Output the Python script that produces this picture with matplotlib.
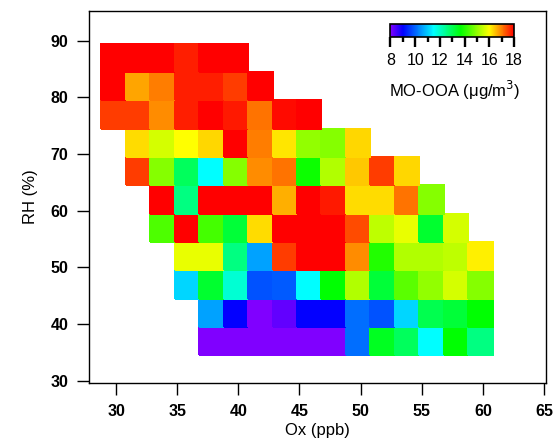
import numpy as np
import matplotlib
matplotlib.use("Agg")
import matplotlib.pyplot as plt
from matplotlib.colors import LinearSegmentedColormap

plt.rcParams['font.family'] = ['Liberation Sans', 'DejaVu Sans']

# bin centres
ox_bins = [29.8, 31.8, 33.8, 35.8, 37.8, 39.8, 41.8, 43.8,
           45.8, 47.8, 49.8, 51.8, 53.8, 55.8, 57.8, 59.8]
rh_bins = [87, 82, 77, 72, 67, 62, 57, 52, 47, 42, 37]

n = np.nan
# MO-OOA (ug/m3), rows from top (RH 87) to bottom (RH 37)
mo_ooa = [
    [18, 18, 18, 17.75, 18, 18, n, n, n, n, n, n, n, n, n, n],
    [18, 16.7, 17.0, 17.75, 17.75, 17.5, 18, n, n, n, n, n, n, n, n, n],
    [17.5, 17.5, 16.9, 17.75, 18, 17.8, 17.1, 17.9, 18, n, n, n, n, n, n, n],
    [n, 16.25, 15.6, 16.0, 16.3, 18, 17.0, 16.2, 15.0, 14.9, 16.3, n, n, n, n, n],
    [n, 17.5, 14.9, 12.9, 11.5, 14.9, 16.9, 17.1, 13.8, 15.3, 16.4, 17.5, 16.3, n, n, n],
    [n, n, 18, 12.6, 18, 18, 18, 16.6, 18, 17.8, 16.25, 16.25, 17.1, 14.9, n, n],
    [n, n, 14.4, 18, 14.3, 13.2, 16.25, 18, 18, 18, 17.4, 15.4, 15.8, 13.3, 15.6, n],
    [n, n, n, 15.8, 15.8, 12.6, 10.6, 17.5, 18, 18, 16.9, 14.0, 15.3, 15.3, 15.4, 16.1],
    [n, n, n, 11.1, 13.3, 11.9, 9.8, 9.9, 11.5, 13.7, 15.3, 13.2, 14.5, 15.0, 15.6, 14.9],
    [n, n, n, n, 10.6, 9.0, 8.0, 8.25, 9.0, 9.0, 10.1, 9.8, 11.1, 13.0, 13.2, 13.7],
    [n, n, n, n, 8, 8, 8, 8, 8, 8, 10.1, 13.4, 12.9, 11.5, 13.7, 12.6],
]

cmap = LinearSegmentedColormap.from_list("igor_rainbow", [
    (0.0, (0.5, 0, 1)),
    (0.1, (0, 0, 1)),
    (0.35, (0, 1, 1)),
    (0.57, (0, 1, 0)),
    (0.8, (1, 1, 0)),
    (1.0, (1, 0, 0)),
])

z = np.array(mo_ooa)[::-1]
x = np.array(ox_bins)
y = np.array(rh_bins)[::-1]
xe = np.append(x - 1, x[-1] + 1)
ye = np.append(y - 2.5, y[-1] + 2.5)

fig = plt.figure(figsize=(5.57, 4.48), dpi=100)
ax = fig.add_axes([0.159, 0.145, 0.821, 0.831])
mesh = ax.pcolormesh(xe, ye, np.ma.masked_invalid(z), cmap=cmap,
                     vmin=8, vmax=18, edgecolors='face', linewidth=0.3)

ax.set_xlim(27.75, 65.15)
ax.set_ylim(29.6, 95.3)
ax.set_xticks(np.arange(30, 66, 5))
ax.set_yticks(np.arange(30, 91, 10))
ax.tick_params(direction='out', length=8.5, width=1, labelsize=11.5)
ax.tick_params(axis='x', pad=6.5)
ax.tick_params(axis='y', pad=6)
for lab in ax.get_xticklabels() + ax.get_yticklabels():
    lab.set_fontweight('bold')
for s in ax.spines.values():
    s.set_linewidth(1)
ax.set_xlabel("Ox (ppb)", fontsize=12, labelpad=3)
ax.set_ylabel("RH (%)", fontsize=12, labelpad=9)

cax = fig.add_axes([0.701, 0.918, 0.222, 0.028])
cb = fig.colorbar(mesh, cax=cax, orientation='horizontal')
cb.set_ticks(np.arange(8, 19, 2))
cb.ax.set_xticks(np.arange(9, 18, 2), minor=True)
cb.ax.tick_params(which='major', direction='out', length=7.2, width=1.7,
                  labelsize=11.5, pad=4.5)
cb.ax.tick_params(which='minor', direction='out', length=3.6, width=1.7)
cb.outline.set_linewidth(1.2)
fig.text(0.817, 0.7835, "MO-OOA (μg/m$^{3}$)", ha='center', va='baseline', fontsize=12)

fig.savefig("out.png", dpi=100)
